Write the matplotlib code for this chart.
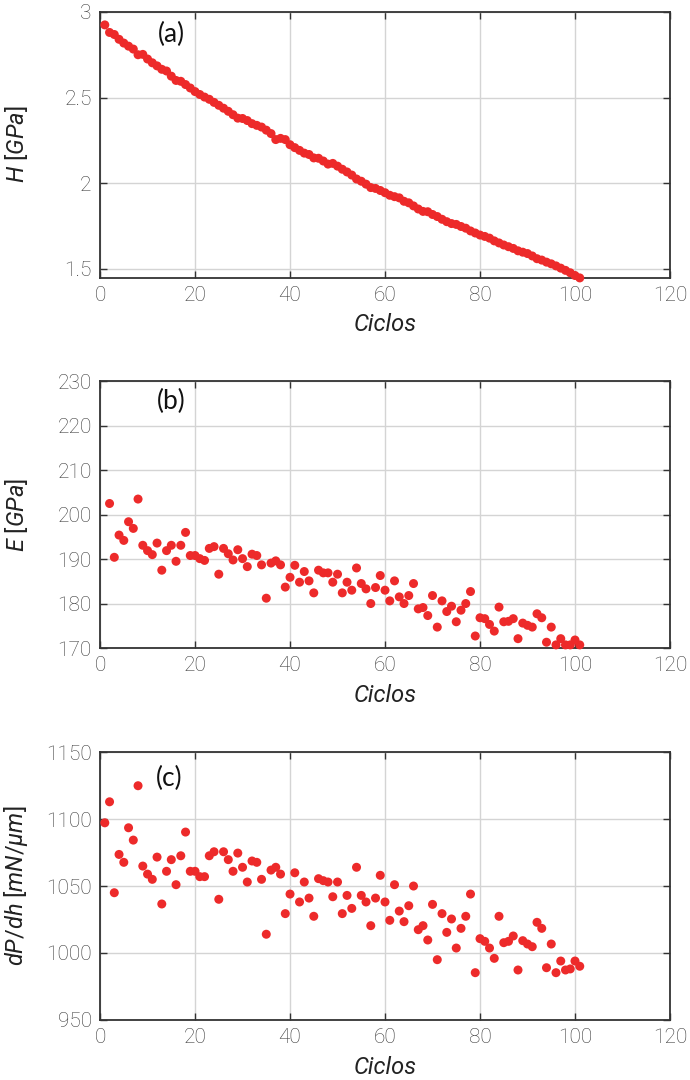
import numpy as np
import matplotlib
matplotlib.use("Agg")
import matplotlib.pyplot as plt

plt.rcParams['font.family'] = ['Roboto', 'DejaVu Sans']
plt.rcParams['mathtext.fontset'] = 'custom'
plt.rcParams['mathtext.rm'] = 'Roboto'
plt.rcParams['mathtext.it'] = 'Roboto:italic'

# (a) dureza H [GPa], ciclos 1..101
ciclos_h = np.arange(1, 102)
dureza = [2.924, 2.880, 2.868, 2.840, 2.818, 2.800, 2.783, 2.750, 2.752, 2.725,
          2.703, 2.685, 2.665, 2.655, 2.625, 2.600, 2.595, 2.576, 2.556, 2.535,
          2.518, 2.503, 2.490, 2.472, 2.455, 2.438, 2.420, 2.400, 2.380, 2.378,
          2.366, 2.348, 2.338, 2.328, 2.310, 2.290, 2.255, 2.262, 2.255, 2.225,
          2.208, 2.192, 2.176, 2.168, 2.148, 2.146, 2.130, 2.112, 2.116, 2.100,
          2.082, 2.066, 2.048, 2.025, 2.012, 1.995, 1.975, 1.970, 1.958, 1.945,
          1.930, 1.922, 1.915, 1.895, 1.886, 1.868, 1.850, 1.836, 1.834, 1.818,
          1.806, 1.790, 1.776, 1.765, 1.760, 1.748, 1.738, 1.722, 1.710, 1.698,
          1.690, 1.680, 1.664, 1.652, 1.640, 1.630, 1.620, 1.606, 1.598, 1.590,
          1.576, 1.560, 1.552, 1.540, 1.530, 1.518, 1.505, 1.492, 1.478, 1.462,
          1.448]

# (b) modulo E [GPa], ciclos 2..101
ciclos_e = np.arange(2, 102)
modulo = [202.5, 190.4, 195.4, 194.2, 198.4, 196.9, 203.5, 193.1, 191.9,
          191.0, 193.6, 187.5, 191.9, 193.1, 189.5, 193.1, 196.0, 190.8, 190.8,
          190.1, 189.7, 192.4, 192.8, 186.6, 192.4, 191.2, 189.8, 192.1, 190.1,
          188.3, 191.1, 190.8, 188.7, 181.2, 189.1, 189.6, 188.7, 183.7, 185.9,
          188.6, 184.8, 187.2, 185.1, 182.4, 187.5, 186.9, 186.9, 184.8, 186.6,
          182.4, 184.8, 183.0, 188.0, 184.5, 183.3, 180.0, 183.6, 186.3, 183.0,
          180.6, 185.1, 181.5, 180.0, 181.8, 184.5, 178.8, 179.1, 177.3, 181.8,
          174.7, 180.6, 178.2, 179.4, 175.9, 178.5, 180.0, 182.7, 172.7, 176.8,
          176.6, 175.3, 173.8, 179.2, 175.9, 176.0, 176.6, 172.1, 175.6, 175.1,
          174.7, 177.7, 176.8, 171.3, 174.7, 170.7, 172.1, 170.7, 170.7, 171.8,
          170.7]

# (c) rigidez dP/dh [mN/um], ciclos 1..101
ciclos_s = np.arange(1, 102)
rigidez = [1097.2, 1112.9, 1045.0, 1073.6, 1067.7, 1093.5, 1084.3, 1124.9, 1064.9, 1058.9,
           1055.0, 1071.6, 1036.6, 1061.0, 1069.7, 1051.0, 1072.6, 1090.3, 1061.0, 1061.0,
           1057.0, 1057.0, 1072.6, 1075.6, 1040.1, 1075.6, 1069.7, 1061.0, 1074.6, 1064.0,
           1053.0, 1068.7, 1067.7, 1055.0, 1014.0, 1061.9, 1064.0, 1058.9, 1029.4, 1044.0,
           1059.9, 1038.1, 1053.0, 1041.0, 1027.4, 1055.5, 1054.0, 1053.0, 1042.0, 1053.0,
           1029.4, 1043.0, 1033.3, 1064.0, 1043.0, 1038.1, 1020.4, 1041.0, 1058.0, 1038.1,
           1024.4, 1051.0, 1031.3, 1023.4, 1035.3, 1050.0, 1017.4, 1020.4, 1009.7, 1036.3,
           995.0, 1029.4, 1015.4, 1025.4, 1003.7, 1018.4, 1027.4, 1044.0, 985.3, 1010.7,
           1008.7, 1003.7, 996.0, 1027.4, 1007.7, 1008.7, 1012.7, 987.3, 1009.2, 1006.7,
           1004.7, 1022.9, 1018.4, 989.0, 1006.7, 985.3, 994.0, 987.3, 988.1, 994.0,
           990.1]

rojo = '#ED2A2A'
gris = '#333333'

fig = plt.figure(figsize=(6.9, 10.8), dpi=100)
ax_a = fig.add_axes([0.145, 0.743, 0.826, 0.246])
ax_b = fig.add_axes([0.145, 0.400, 0.826, 0.247])
ax_c = fig.add_axes([0.145, 0.0556, 0.826, 0.248])

paneles = [
    (ax_a, ciclos_h, dureza, (1.45, 3.0), [1.5, 2, 2.5, 3], ['1.5', '2', '2.5', '3'],
     '$\\mathit{H}$ [$\\mathit{GPa}$]', '(a)', (15, 2.87)),
    (ax_b, ciclos_e, modulo, (170, 230), list(range(170, 231, 10)), None,
     '$\\mathit{E}$ [$\\mathit{GPa}$]', '(b)', (15, 225.4)),
    (ax_c, ciclos_s, rigidez, (950, 1150), list(range(950, 1151, 50)), None,
     '$\\mathit{dP/dh}$ [$\\mathit{mN/μm}$]', '(c)', (14.5, 1130)),
]

for ax, x, y, ylim, yt, ytl, ylab, letra, pos in paneles:
    ax.scatter(x, y, s=42, color=rojo, edgecolors='none', zorder=3, clip_on=False)
    ax.set_xlim(0, 120)
    ax.set_ylim(*ylim)
    ax.set_xticks(range(0, 121, 20))
    ax.set_yticks(yt)
    if ytl:
        ax.set_yticklabels(ytl)
    ax.grid(True, color='#d4d4d4', linewidth=1.0)
    ax.set_axisbelow(True)
    ax.tick_params(direction='in', top=True, right=True, length=5, width=1,
                   labelsize=15, labelcolor='#3a3a3a', color=gris, pad=6)
    for lbl in ax.get_xticklabels() + ax.get_yticklabels():
        lbl.set_fontweight('light')
    for sp in ax.spines.values():
        sp.set_color(gris)
        sp.set_linewidth(1.3)
    ax.set_xlabel('Ciclos', fontsize=17, style='italic', color='#222222', labelpad=6)
    ax.set_ylabel(ylab, fontsize=17, color='#222222')
    ax.yaxis.set_label_coords(-0.123, 0.5)
    ax.text(pos[0], pos[1], letra, fontsize=19, family='Lato', color='#111111',
            ha='center', va='center')

fig.savefig('out.png', dpi=100)
